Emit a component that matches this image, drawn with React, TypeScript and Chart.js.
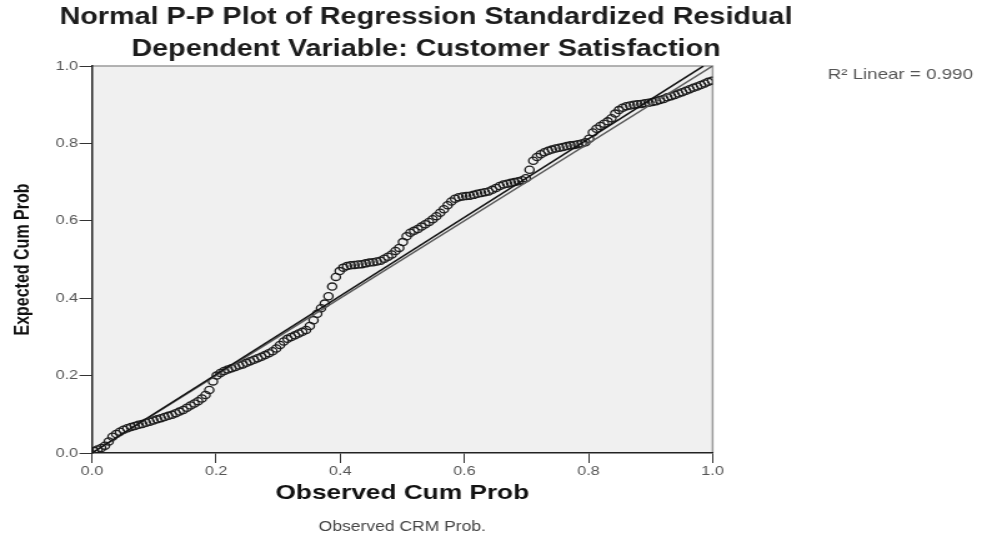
import React, { useEffect, useRef } from "react";
import { Chart, registerables } from "chart.js";

Chart.register(...registerables);

// ---------- data ----------
const observedCumProb = [
  0.003, 0.009, 0.015, 0.021, 0.027, 0.033, 0.039, 0.045, 0.051, 0.057,
  0.063, 0.069, 0.075, 0.081, 0.087, 0.093, 0.099, 0.105, 0.111, 0.117,
  0.123, 0.129, 0.135, 0.141, 0.147, 0.153, 0.159, 0.165, 0.171, 0.177,
  0.183, 0.189, 0.195, 0.201, 0.207, 0.213, 0.219, 0.225, 0.231, 0.237,
  0.243, 0.249, 0.255, 0.261, 0.267, 0.273, 0.279, 0.285, 0.291, 0.297,
  0.303, 0.309, 0.315, 0.321, 0.327, 0.333, 0.339, 0.345, 0.351, 0.357,
  0.363, 0.369, 0.375, 0.381, 0.387, 0.393, 0.399, 0.405, 0.411, 0.417,
  0.423, 0.429, 0.435, 0.441, 0.447, 0.453, 0.459, 0.465, 0.471, 0.477,
  0.483, 0.489, 0.495, 0.501, 0.507, 0.513, 0.519, 0.525, 0.531, 0.537,
  0.543, 0.549, 0.555, 0.561, 0.567, 0.573, 0.579, 0.585, 0.591, 0.597,
  0.603, 0.609, 0.615, 0.621, 0.627, 0.633, 0.639, 0.645, 0.651, 0.657,
  0.663, 0.669, 0.675, 0.681, 0.687, 0.693, 0.699, 0.705, 0.711, 0.717,
  0.723, 0.729, 0.735, 0.741, 0.747, 0.753, 0.759, 0.765, 0.771, 0.777,
  0.783, 0.789, 0.795, 0.801, 0.807, 0.813, 0.819, 0.825, 0.831, 0.837,
  0.843, 0.849, 0.855, 0.861, 0.867, 0.873, 0.879, 0.885, 0.891, 0.897,
  0.903, 0.909, 0.915, 0.921, 0.927, 0.933, 0.939, 0.945, 0.951, 0.957,
  0.963, 0.969, 0.975, 0.981, 0.987, 0.993, 0.999,
];

const expectedCumProb = [
  0.005, 0.009, 0.013, 0.019, 0.03, 0.042, 0.049, 0.055, 0.06, 0.064,
  0.067, 0.07, 0.073, 0.075, 0.078, 0.081, 0.084, 0.087, 0.09, 0.093,
  0.096, 0.099, 0.103, 0.107, 0.111, 0.117, 0.123, 0.128, 0.134, 0.141,
  0.15, 0.163, 0.185, 0.2, 0.207, 0.212, 0.216, 0.219, 0.222, 0.226,
  0.229, 0.233, 0.237, 0.241, 0.245, 0.249, 0.253, 0.258, 0.263, 0.27,
  0.279, 0.288, 0.295, 0.3, 0.304, 0.309, 0.313, 0.318, 0.328, 0.343,
  0.36, 0.374, 0.386, 0.405, 0.43, 0.455, 0.47, 0.479, 0.483, 0.485,
  0.486, 0.487, 0.488, 0.49, 0.492, 0.493, 0.495, 0.497, 0.502, 0.507,
  0.513, 0.522, 0.53, 0.545, 0.56, 0.569, 0.574, 0.579, 0.585, 0.591,
  0.597, 0.604, 0.612, 0.621, 0.63, 0.64, 0.65, 0.657, 0.661, 0.663,
  0.664, 0.665, 0.667, 0.67, 0.672, 0.674, 0.676, 0.68, 0.685, 0.69,
  0.694, 0.696, 0.698, 0.7, 0.702, 0.705, 0.71, 0.732, 0.755, 0.765,
  0.772, 0.777, 0.781, 0.784, 0.787, 0.789, 0.791, 0.793, 0.795, 0.796,
  0.798, 0.8, 0.803, 0.812, 0.828, 0.838, 0.845, 0.851, 0.857, 0.865,
  0.877, 0.886, 0.892, 0.896, 0.898, 0.9, 0.901, 0.902, 0.904, 0.905,
  0.907, 0.909, 0.912, 0.915, 0.919, 0.922, 0.925, 0.929, 0.932, 0.936,
  0.94, 0.944, 0.947, 0.951, 0.955, 0.959, 0.962,
];

const axisTicks = [0, 0.2, 0.4, 0.6, 0.8, 1.0];
const identityX = [0, 1];
const fitX = [0, 0.985];
const fitIntercept = 0.0;
const fitSlope = 1.015;

const titleLines = [
  "Normal P-P Plot of Regression Standardized Residual",
  "Dependent Variable: Customer Satisfaction",
];
const r2Label = "R\u00B2 Linear = 0.990";
const xAxisTitle = "Observed Cum Prob";
const yAxisTitle = "Expected Cum Prob";
const captionText = "Observed CRM Prob.";

// ---------- layout ----------
const PAGE_W = 982;
const PAGE_H = 537;
const STRETCH = 1.25;
const CANVAS_W = Math.round(PAGE_W / STRETCH);
const AREA_LEFT = 73.6;
const AREA_RIGHT = 570.4;
const AREA_TOP = 66;
const AREA_BOTTOM = 453;
const FONT = '"Liberation Sans", Arial, Helvetica, sans-serif';

const decorPlugin = {
  id: "decor",
  beforeDraw(chart: any) {
    const { ctx, chartArea } = chart;
    const { left, top, right, bottom } = chartArea;
    ctx.save();
    ctx.fillStyle = "#f0f0f0";
    ctx.fillRect(left, top, right - left, bottom - top);
    ctx.strokeStyle = "#9a9a9a";
    ctx.lineWidth = 1.5;
    ctx.beginPath();
    ctx.moveTo(left, top);
    ctx.lineTo(right, top);
    ctx.lineTo(right, bottom);
    ctx.stroke();
    ctx.restore();
  },
  afterDraw(chart: any) {
    const { ctx, chartArea } = chart;
    const cx = (chartArea.left + chartArea.right) / 2;
    ctx.save();
    ctx.textAlign = "center";
    ctx.textBaseline = "middle";
    ctx.fillStyle = "#1c1c1c";
    ctx.font = `bold 23px ${FONT}`;
    ctx.fillText(titleLines[0], cx + 19, 18);
    ctx.fillText(titleLines[1], cx + 19, 50);

    ctx.textAlign = "left";
    ctx.fillStyle = "#555";
    ctx.font = `15px ${FONT}`;
    ctx.fillText(r2Label, chartArea.right + 92, 75);

    ctx.textAlign = "center";
    ctx.fillStyle = "#444";
    ctx.font = `14px ${FONT}`;
    ctx.fillText(captionText, cx, 527);
    ctx.restore();
  },
};

export default function App() {
  const canvasRef = useRef<HTMLCanvasElement | null>(null);

  useEffect(() => {
    document.body.style.margin = "0";
    const canvas = canvasRef.current;
    if (!canvas) return;

    const points = observedCumProb.map((x, i) => ({ x, y: expectedCumProb[i] }));
    const identity = identityX.map((x) => ({ x, y: x }));
    const fit = fitX.map((x) => ({ x, y: fitIntercept + fitSlope * x }));

    const tickFont = { family: FONT, size: 13 };

    const chart = new Chart(canvas, {
      type: "scatter",
      data: {
        datasets: [
          {
            label: "Residuals",
            data: points,
            pointRadius: 3.6,
            pointBorderWidth: 1.3,
            pointBorderColor: "#1e1e1e",
            pointBackgroundColor: "rgba(0,0,0,0)",
            showLine: false,
            order: 2,
          },
          {
            label: "Reference",
            data: identity,
            showLine: true,
            borderColor: "#5a5a5a",
            borderWidth: 1.5,
            pointRadius: 0,
            order: 1,
          },
          {
            label: "Linear fit",
            data: fit,
            showLine: true,
            borderColor: "#111",
            borderWidth: 1.5,
            pointRadius: 0,
            order: 0,
          },
        ],
      },
      options: {
        responsive: false,
        devicePixelRatio: 1,
        animation: false,
        layout: {
          padding: {
            left: 0,
            top: AREA_TOP,
            right: CANVAS_W - AREA_RIGHT,
            bottom: 0,
          },
        },
        plugins: {
          legend: { display: false },
          tooltip: { enabled: false },
          title: { display: false },
        },
        scales: {
          x: {
            type: "linear",
            min: 0,
            max: 1,
            afterFit(scale: any) {
              scale.height = PAGE_H - AREA_BOTTOM;
            },
            afterBuildTicks(scale: any) {
              scale.ticks = axisTicks.map((v) => ({ value: v }));
            },
            ticks: {
              font: tickFont,
              color: "#555",
              padding: 1,
              maxRotation: 0,
              callback: (v: any) => Number(v).toFixed(1),
            },
            grid: {
              drawOnChartArea: false,
              drawTicks: true,
              tickLength: 10,
              color: "#333",
              lineWidth: 1,
            },
            border: { display: true, color: "#222", width: 1.5 },
            title: {
              display: true,
              text: xAxisTitle,
              color: "#111",
              font: { family: FONT, size: 21, weight: "bold" },
              padding: { top: 0, bottom: 31.4 },
            },
          },
          y: {
            type: "linear",
            min: 0,
            max: 1,
            afterFit(scale: any) {
              scale.width = AREA_LEFT;
            },
            afterBuildTicks(scale: any) {
              scale.ticks = axisTicks.map((v) => ({ value: v }));
            },
            ticks: {
              font: tickFont,
              color: "#555",
              padding: 1,
              callback: (v: any) => Number(v).toFixed(1),
            },
            grid: {
              drawOnChartArea: false,
              drawTicks: true,
              tickLength: 10,
              color: "#333",
              lineWidth: 1,
            },
            border: { display: true, color: "#222", width: 1.5 },
            title: {
              display: true,
              text: yAxisTitle,
              color: "#111",
              font: { family: FONT, size: 16, weight: "bold" },
              padding: { top: 8.8, bottom: 0 },
            },
          },
        },
      },
      plugins: [decorPlugin],
    });

    return () => chart.destroy();
  }, []);

  return (
    <div style={{ width: PAGE_W, height: PAGE_H, background: "#fff" }}>
      <canvas
        ref={canvasRef}
        width={CANVAS_W}
        height={PAGE_H}
        style={{ width: `${PAGE_W}px`, height: `${PAGE_H}px`, display: "block" }}
      />
    </div>
  );
}
